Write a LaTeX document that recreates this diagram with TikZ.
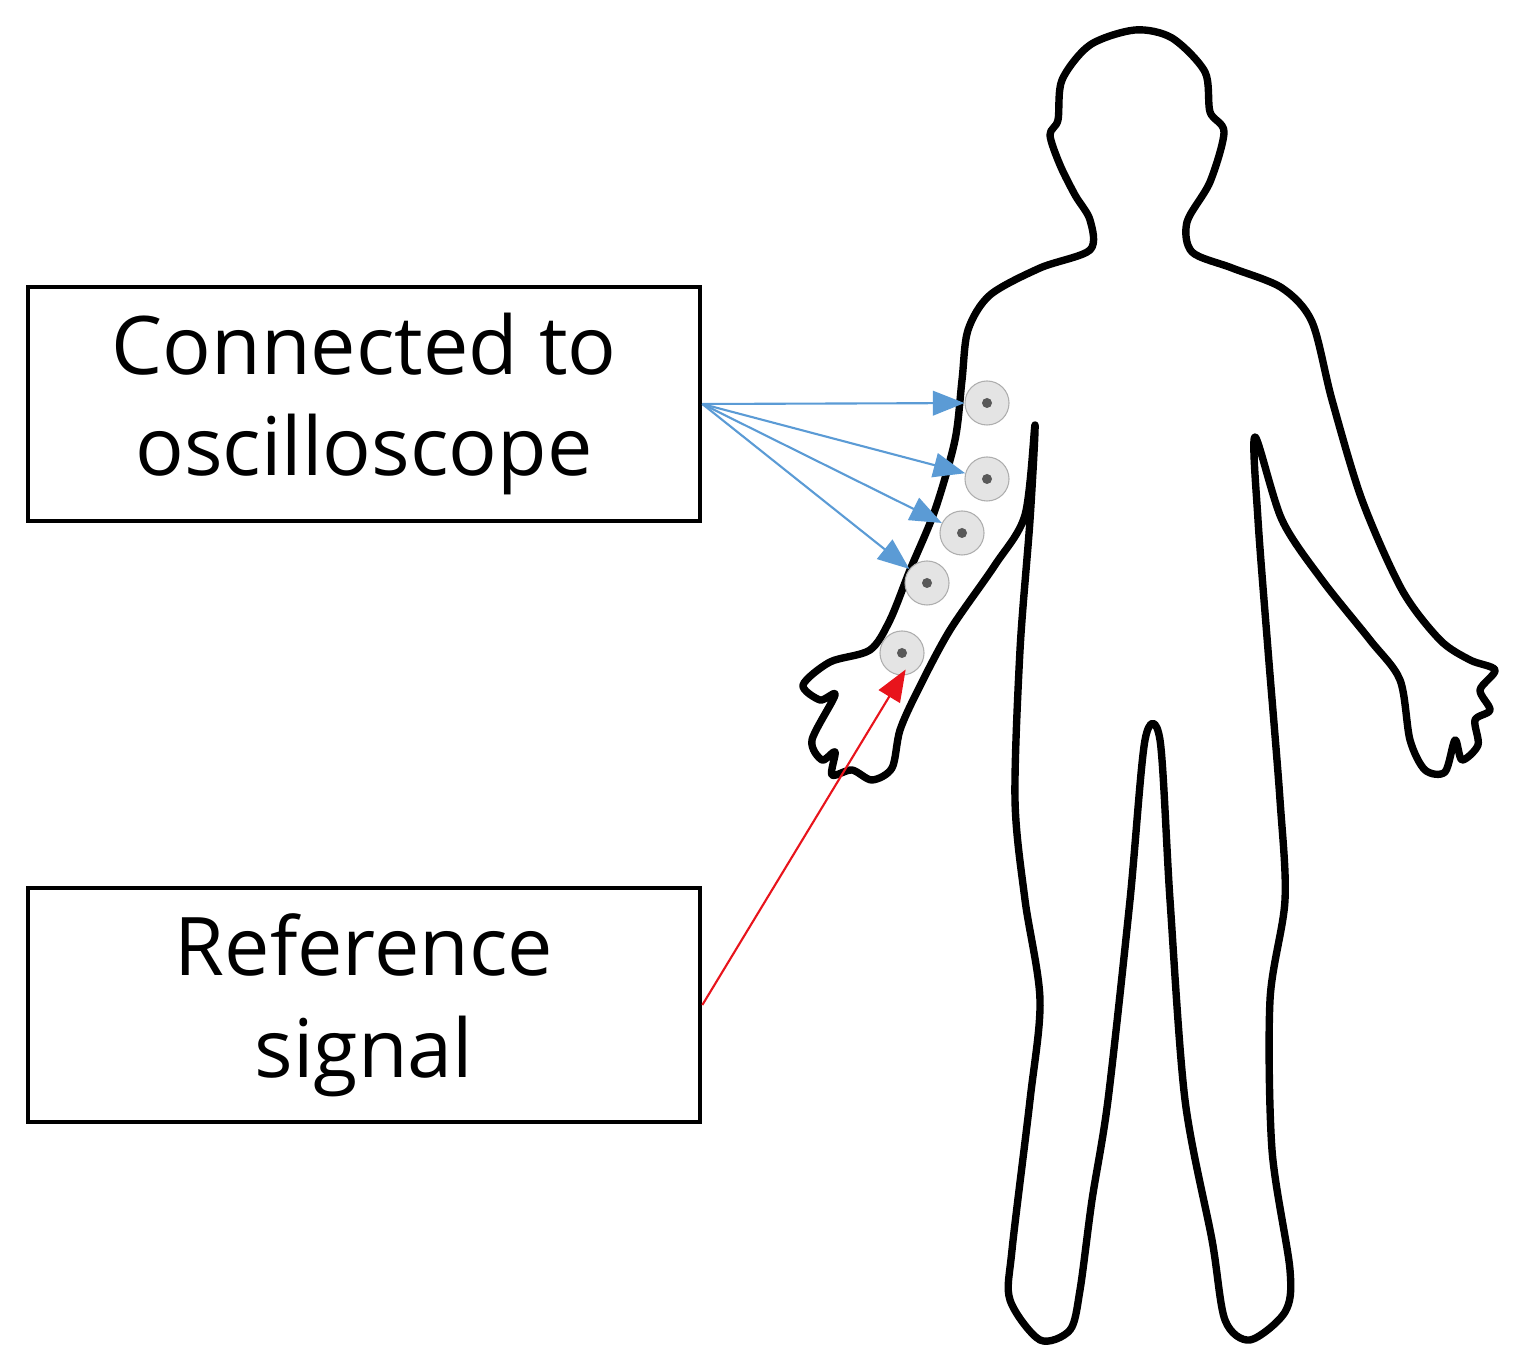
\documentclass[tikz,border=0pt]{standalone}
\usepackage{fontspec}
\setmainfont{Open Sans}
\usetikzlibrary{positioning,arrows.meta}
\definecolor{leadblue}{HTML}{5B9BD5}
\definecolor{refred}{HTML}{E8141C}
\definecolor{padgray}{HTML}{D9D9D9}

\begin{document}
\begin{tikzpicture}[
    x=0.01cm, y=-0.01cm,
    every node/.style={font=\fontsize{23}{29}\selectfont},
    labelbox/.style={
        draw=black, line width=1.2pt, minimum width=6.72cm, minimum height=2.34cm,
        align=center, inner sep=0pt
    },
    pad/.style={
        circle, draw=padgray!80!black, line width=0.3pt, fill=padgray!70,
        minimum size=0.44cm, inner sep=0pt,
        path picture={\fill[gray!70!black] (path picture bounding box.center) circle (0.05cm);}
    },
    lead/.style={-{Triangle[length=9pt, width=7pt]}, line width=0.6pt, color=#1},
]
\useasboundingbox (0,0) rectangle (1515,1368);

% === Body outline ===
\draw[line width=2.1pt, line join=round] plot[smooth cycle, tension=0.5] coordinates {
    (1135,30) (1090,45) (1062,80) (1058,120) (1050,135) (1060,165) (1075,195)
    (1090,220) (1090,250) (1040,268) (990,295) (968,330) (962,380) (955,440)
    (935,510) (910,570) (890,620) (870,650) (830,662) (803,685) (820,700)
    (835,695) (812,740) (822,760) (835,752) (832,775) (852,770) (872,780)
    (892,768) (900,730) (918,690) (950,630) (995,565) (1025,515) (1035,425)
    (1030,520) (1020,650) (1015,800) (1025,900) (1040,1000) (1030,1100)
    (1012,1250) (1010,1300) (1040,1340) (1070,1330) (1080,1290) (1092,1200)
    (1108,1100) (1130,900) (1145,740) (1160,740) (1170,900) (1185,1100)
    (1212,1240) (1225,1320) (1250,1340) (1285,1312) (1290,1270) (1272,1150)
    (1270,1000) (1285,900) (1280,800) (1268,650) (1258,520) (1255,437)
    (1282,520) (1322,580) (1370,640) (1400,680) (1410,740) (1425,770)
    (1445,772) (1455,740) (1462,760) (1478,745) (1475,720) (1490,710)
    (1480,690) (1495,670) (1470,660)
    (1440,640) (1402,590) (1362,500) (1332,400) (1312,322) (1282,288)
    (1232,268) (1192,252) (1187,222) (1210,182) (1224,132) (1210,112)
    (1205,72) (1172,38)
};

% === Electrodes ===
\node[pad] (e1) at (987,403) {};
\node[pad] (e2) at (987,479) {};
\node[pad] (e3) at (962,533) {};
\node[pad] (e4) at (927,583) {};
\node[pad] (e5) at (902,653) {};

% === Labels ===
\node[labelbox] (scope) at (364,404) {Connected to\\oscilloscope};
\node[labelbox] (refsig) at (364,1005) {Reference\\signal};

% === Leads ===
\foreach \n in {e1,e2,e3,e4} {
    \draw[lead=leadblue] (scope.east) -- (\n);
}
\draw[lead=refred, shorten >=-2pt] (refsig.east) -- (e5.south);

\end{tikzpicture}
\end{document}
